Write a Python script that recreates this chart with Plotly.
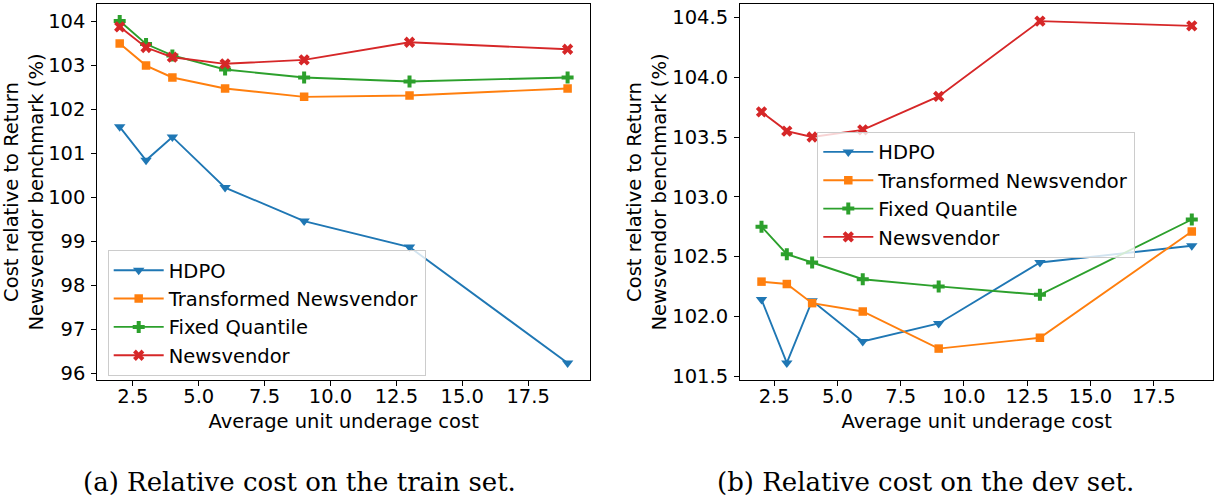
import plotly.graph_objects as go

# Average unit underage cost (shared x values)
underage_cost = [2, 3, 4, 6, 9, 13, 19]

# Train set: cost relative to the Return Newsvendor benchmark (%)
train_hdpo = [101.60, 100.84, 101.37, 100.22, 99.46, 98.87, 96.24]
train_transformed_nv = [103.49, 102.99, 102.72, 102.47, 102.28, 102.31, 102.47]
train_fixed_quantile = [104.00, 103.48, 103.22, 102.90, 102.72, 102.63, 102.72]
train_newsvendor = [103.87, 103.40, 103.18, 103.03, 103.12, 103.52, 103.36]

# Dev set: cost relative to the Return Newsvendor benchmark (%)
dev_hdpo = [102.14, 101.61, 102.13, 101.79, 101.94, 102.45, 102.59]
dev_transformed_nv = [102.29, 102.27, 102.11, 102.04, 101.73, 101.82, 102.71]
dev_fixed_quantile = [102.75, 102.52, 102.45, 102.31, 102.25, 102.18, 102.81]
dev_newsvendor = [103.71, 103.55, 103.50, 103.56, 103.84, 104.47, 104.43]

series_names = ["HDPO", "Transformed Newsvendor", "Fixed Quantile", "Newsvendor"]
colors = ["#1f77b4", "#ff7f0e", "#2ca02c", "#d62728"]
symbols = ["triangle-down", "square", "cross", "x"]
marker_sizes = [10, 8.5, 10, 10]

captions = ["(a) Relative cost on the train set.", "(b) Relative cost on the dev set."]
x_title = "Average unit underage cost"
y_title = "Cost relative to Return<br>Newsvendor benchmark (%)"

W, H = 1216, 500
FONT = "DejaVu Sans"
FS = 19.5

fig = go.Figure()

panels = [
    (["x", "y"], [train_hdpo, train_transformed_nv, train_fixed_quantile, train_newsvendor], "legend"),
    (["x2", "y2"], [dev_hdpo, dev_transformed_nv, dev_fixed_quantile, dev_newsvendor], "legend2"),
]

for (xa, ya), values, leg in panels:
    for i, name in enumerate(series_names):
        fig.add_trace(go.Scatter(
            x=underage_cost, y=values[i], name=name, mode="lines+markers",
            xaxis=xa, yaxis=ya, legend=leg,
            line=dict(color=colors[i], width=1.9),
            marker=dict(symbol=symbols[i], size=marker_sizes[i], color=colors[i],
                        line=dict(width=0)),
        ))


def padded_range(series_list, frac=0.05):
    lo = min(min(s) for s in series_list)
    hi = max(max(s) for s in series_list)
    pad = (hi - lo) * frac
    return [lo - pad, hi + pad]


x_range = padded_range([underage_cost])
train_range = padded_range([train_hdpo, train_transformed_nv, train_fixed_quantile, train_newsvendor])
dev_range = padded_range([dev_hdpo, dev_transformed_nv, dev_fixed_quantile, dev_newsvendor])

y_dom = [(H - 380) / H, (H - 4) / H]
left_dom = [97.3 / W, 590 / W]
right_dom = [740 / W, 1213.3 / W]

axis_common = dict(
    showline=True, linecolor="black", linewidth=1, mirror=True,
    showgrid=False, zeroline=False, ticks="outside", ticklen=5, tickwidth=1,
    tickcolor="black", tickfont=dict(family=FONT, size=FS, color="black"),
    automargin=False,
)
x_common = dict(range=x_range, dtick=2.5, tick0=0, tickformat=".1f",
                title=dict(text=x_title, standoff=6, font=dict(family=FONT, size=FS)),
                ticklabelstandoff=-6, **axis_common)
y_common = dict(title=dict(text=y_title, standoff=0, font=dict(family=FONT, size=FS)),
                ticklabelstandoff=2, **axis_common)
legend_common = dict(xanchor="left", yanchor="top", traceorder="normal",
                     bgcolor="rgba(255,255,255,0.8)", bordercolor="#cccccc", borderwidth=1,
                     font=dict(family=FONT, size=FS, color="black"),
                     itemwidth=50)

fig.update_layout(
    width=W, height=H,
    margin=dict(l=0, r=0, t=0, b=0),
    paper_bgcolor="white", plot_bgcolor="white",
    font=dict(family=FONT, size=FS, color="black"),
    xaxis=dict(domain=left_dom, anchor="y", **x_common),
    yaxis=dict(domain=y_dom, range=train_range, dtick=1, tickformat="d",
               anchor="x", **y_common),
    xaxis2=dict(domain=right_dom, anchor="y2", **x_common),
    yaxis2=dict(domain=y_dom, range=dev_range, dtick=0.5, tickformat=".1f",
                anchor="x2", **y_common),
    legend=dict(x=107.7 / W, y=(H - 250) / H, **legend_common),
    legend2=dict(x=817.3 / W, y=(H - 131.7) / H, **legend_common),
    showlegend=True,
)

# Sub-figure captions
for text, cx in zip(captions, [299, 925]):
    fig.add_annotation(
        text=text, x=cx / W, y=(H - 482) / H, xref="paper", yref="paper",
        xanchor="center", yanchor="middle", showarrow=False,
        font=dict(family="DejaVu Serif", size=26, color="black"),
    )

fig.write_html("out.html")
